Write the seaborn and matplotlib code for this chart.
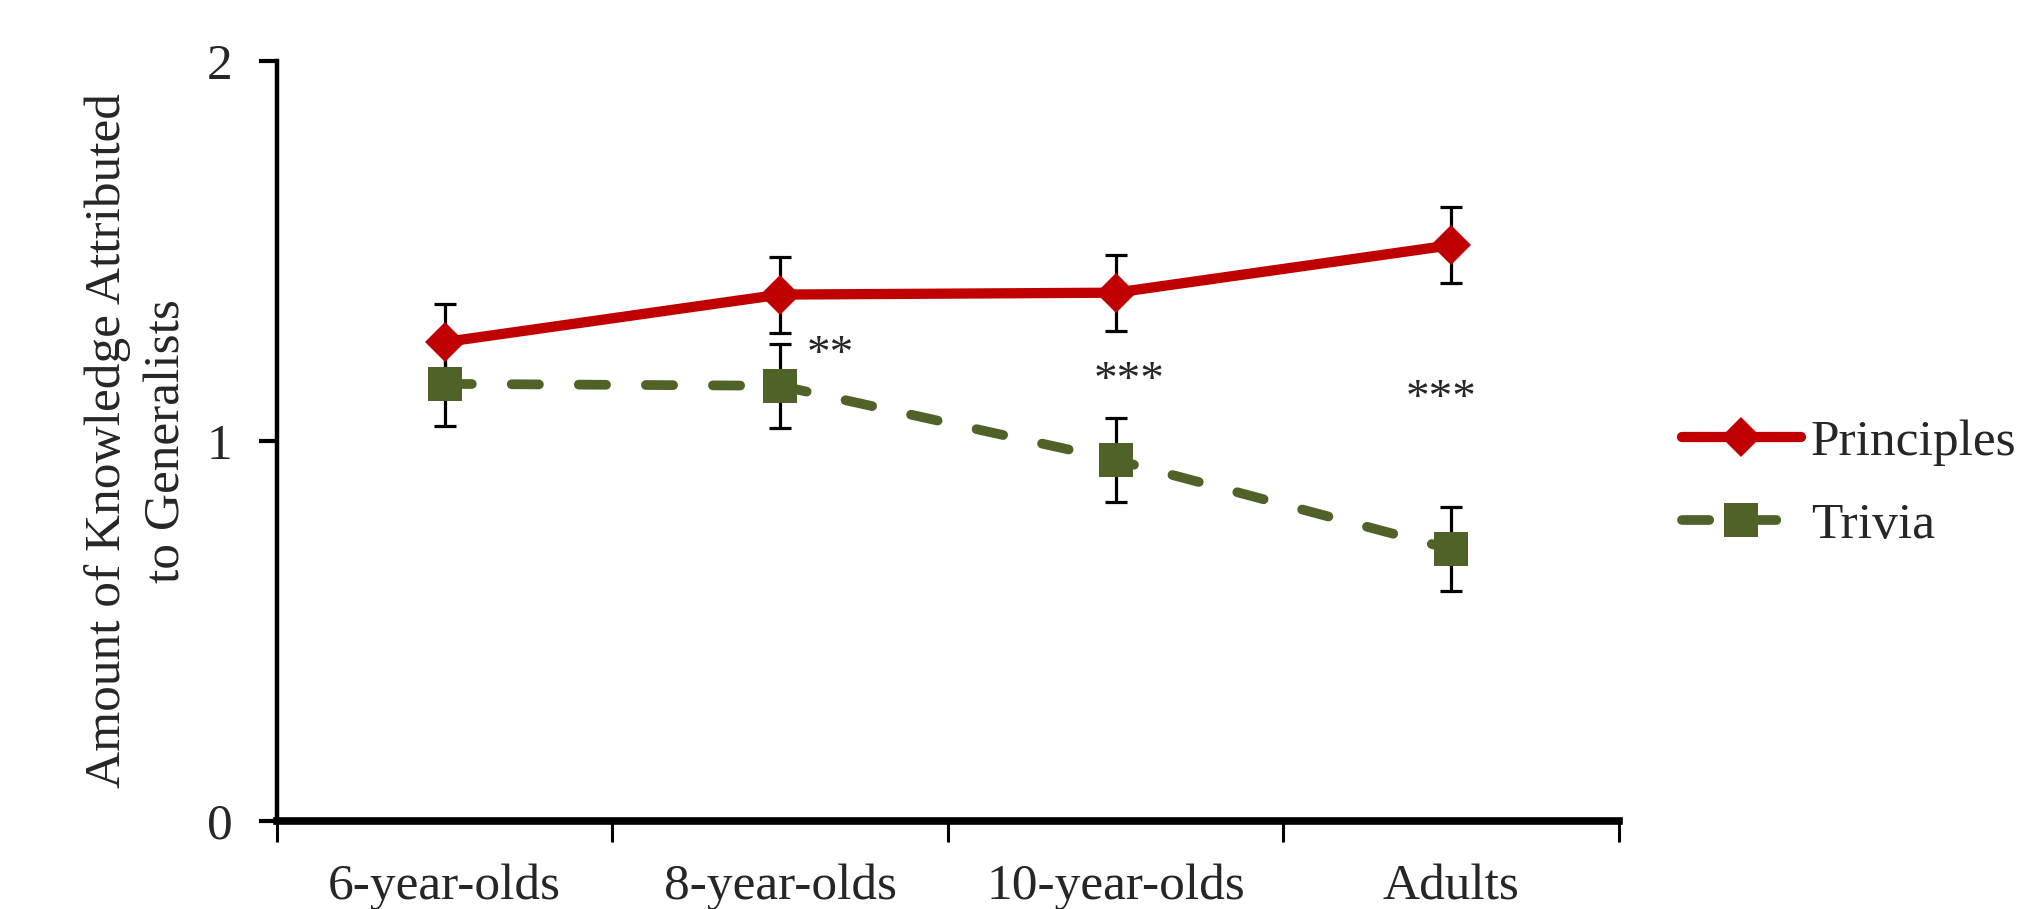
import numpy as np
import pandas as pd
import matplotlib
matplotlib.use("Agg")
import matplotlib.pyplot as plt
import seaborn as sns

# ── Data ──────────────────────────────────────────────────────
groups = ["6-year-olds", "8-year-olds", "10-year-olds", "Adults"]
principles = [1.26, 1.385, 1.39, 1.515]
principles_err = [0.10, 0.10, 0.10, 0.10]
trivia = [1.15, 1.145, 0.95, 0.715]
trivia_err = [0.11, 0.11, 0.11, 0.11]

sig_labels = ["**", "***", "***"]
sig_x = [1.15, 2.04, 2.97]
sig_y = [1.225, 1.155, 1.108]

RED = "#C00000"
GREEN = "#4F6228"
FS = 37

df = pd.DataFrame({
    "group": groups * 2,
    "value": principles + trivia,
    "series": ["Principles"] * 4 + ["Trivia"] * 4,
})

sns.set_style("white")
plt.rcParams["font.family"] = ["Liberation Serif", "DejaVu Serif"]

fig = plt.figure(figsize=(20.21, 9.09), dpi=100)
ax = fig.add_axes([0.137, 0.097, 0.664, 0.836])

# error bars below the markers
for vals, errs in [(principles, principles_err), (trivia, trivia_err)]:
    ax.errorbar(groups, vals, yerr=errs, fmt="none", ecolor="black",
                elinewidth=2.3, capsize=8, capthick=2.3, zorder=1)

sns.lineplot(data=df, x="group", y="value", hue="series", style="series",
             palette={"Principles": RED, "Trivia": GREEN},
             markers={"Principles": "D", "Trivia": "s"},
             dashes={"Principles": "", "Trivia": (2.8, 4.1)},
             linewidth=7.4, legend=False, ax=ax, zorder=3, sort=False)

lines = [l for l in ax.get_lines() if l.get_marker() in ("D", "s")]
for ln in lines:
    ln.set_markeredgewidth(0)
    ln.set_dash_capstyle("round")
    ln.set_solid_capstyle("round")
    if ln.get_marker() == "D":
        ln.set_markersize(20)
        ln.set_label("Principles")
    else:
        ln.set_markersize(24)
        ln.set_linewidth(7)
        ln.set_label("Trivia")

for lab, x, y in zip(sig_labels, sig_x, sig_y):
    ax.text(x, y, lab, ha="center", va="center", fontsize=34)

# ── Axes styling ─────────────────────────────────────────────
ax.set_xlim(-0.5, 3.5)
ax.set_ylim(0, 2)
ax.set_yticks([0, 1, 2])
ax.set_yticklabels(["0", "1", "2"], fontsize=FS)
ax.set_xticks(np.arange(-0.5, 4, 1))
ax.set_xticklabels([])
ax.set_xticks(range(4), labels=groups, minor=True, fontsize=FS)
ax.tick_params(axis="x", which="major", direction="out", length=15, width=2.2,
               bottom=True, color="black")
ax.tick_params(axis="x", which="minor", length=0, pad=31)
ax.tick_params(axis="y", direction="out", length=13, width=3, left=True,
               color="black", pad=19)
ax.set_xlabel("")
ax.set_ylabel("Amount of Knowledge Attributed\nto Generalists", fontsize=FS,
              linespacing=1.38)
ax.yaxis.label.set_va("center")
ax.yaxis.set_label_coords(-0.104, 0.5)

sns.despine(ax=ax)
ax.spines["left"].set_linewidth(3.2)
ax.spines["bottom"].set_linewidth(5.5)
ax.spines["left"].set_color("black")
ax.spines["bottom"].set_color("black")

ax.legend(handles=lines, loc="center left", bbox_to_anchor=(1.032, 0.443),
          frameon=False, fontsize=FS, handlelength=2.3, handletextpad=0.2,
          labelspacing=0.7, borderaxespad=0)

fig.savefig("out.png", dpi=100)
